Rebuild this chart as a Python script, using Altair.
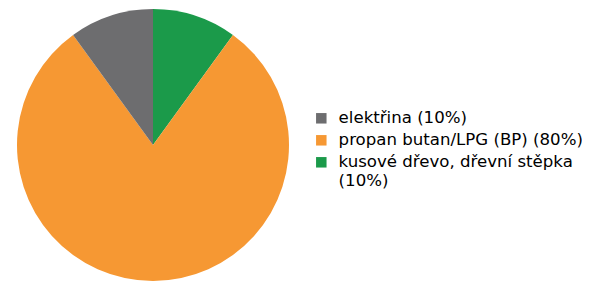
import altair as alt
import pandas as pd

categories = ["kusové dřevo, dřevní stěpka", "propan butan/LPG (BP)", "elektřina"]
shares = [10, 80, 10]
colors = ["#1b9a4a", "#f69833", "#6d6d6f"]
legend_order = ["elektřina", "propan butan/LPG (BP)", "kusové dřevo, dřevní stěpka"]

df = pd.DataFrame({"cat": categories, "share": shares, "ord": [0, 1, 2]})
df["label"] = df["cat"] + " (" + df["share"].astype(str) + "%)"
label_order = [next(l for c, l in zip(df["cat"], df["label"]) if c == k) for k in legend_order]
color_for = {c: col for c, col in zip(categories, colors)}

pie = alt.Chart(df).mark_arc(radius=136, stroke=None).encode(
    theta=alt.Theta("share:Q", stack=True),
    order=alt.Order("ord:Q"),
    x=alt.value(145),
    y=alt.value(137),
    color=alt.Color(
        "label:N",
        sort=label_order,
        scale=alt.Scale(domain=label_order, range=[color_for[k] for k in legend_order]),
        legend=alt.Legend(
            title=None,
            orient="none",
            legendX=305,
            legendY=102,
            symbolType="square",
            symbolSize=110,
            symbolStrokeWidth=0,
            labelFont="DejaVu Sans",
            labelFontSize=16.6,
            labelColor="#000000",
            labelLimit=400,
            labelOffset=9,
            labelExpr="datum.label == 'kusové dřevo, dřevní stěpka (10%)' ? ['kusové dřevo, dřevní stěpka', '(10%)'] : datum.label",
            rowPadding=5,
        ),
    ),
)

chart = pie.properties(
    width=574, height=273, autosize=alt.AutoSizeParams(type="none"), padding=0
).configure_view(stroke=None)

chart.save("out.html", embed_options={"renderer": "svg", "actions": False})
